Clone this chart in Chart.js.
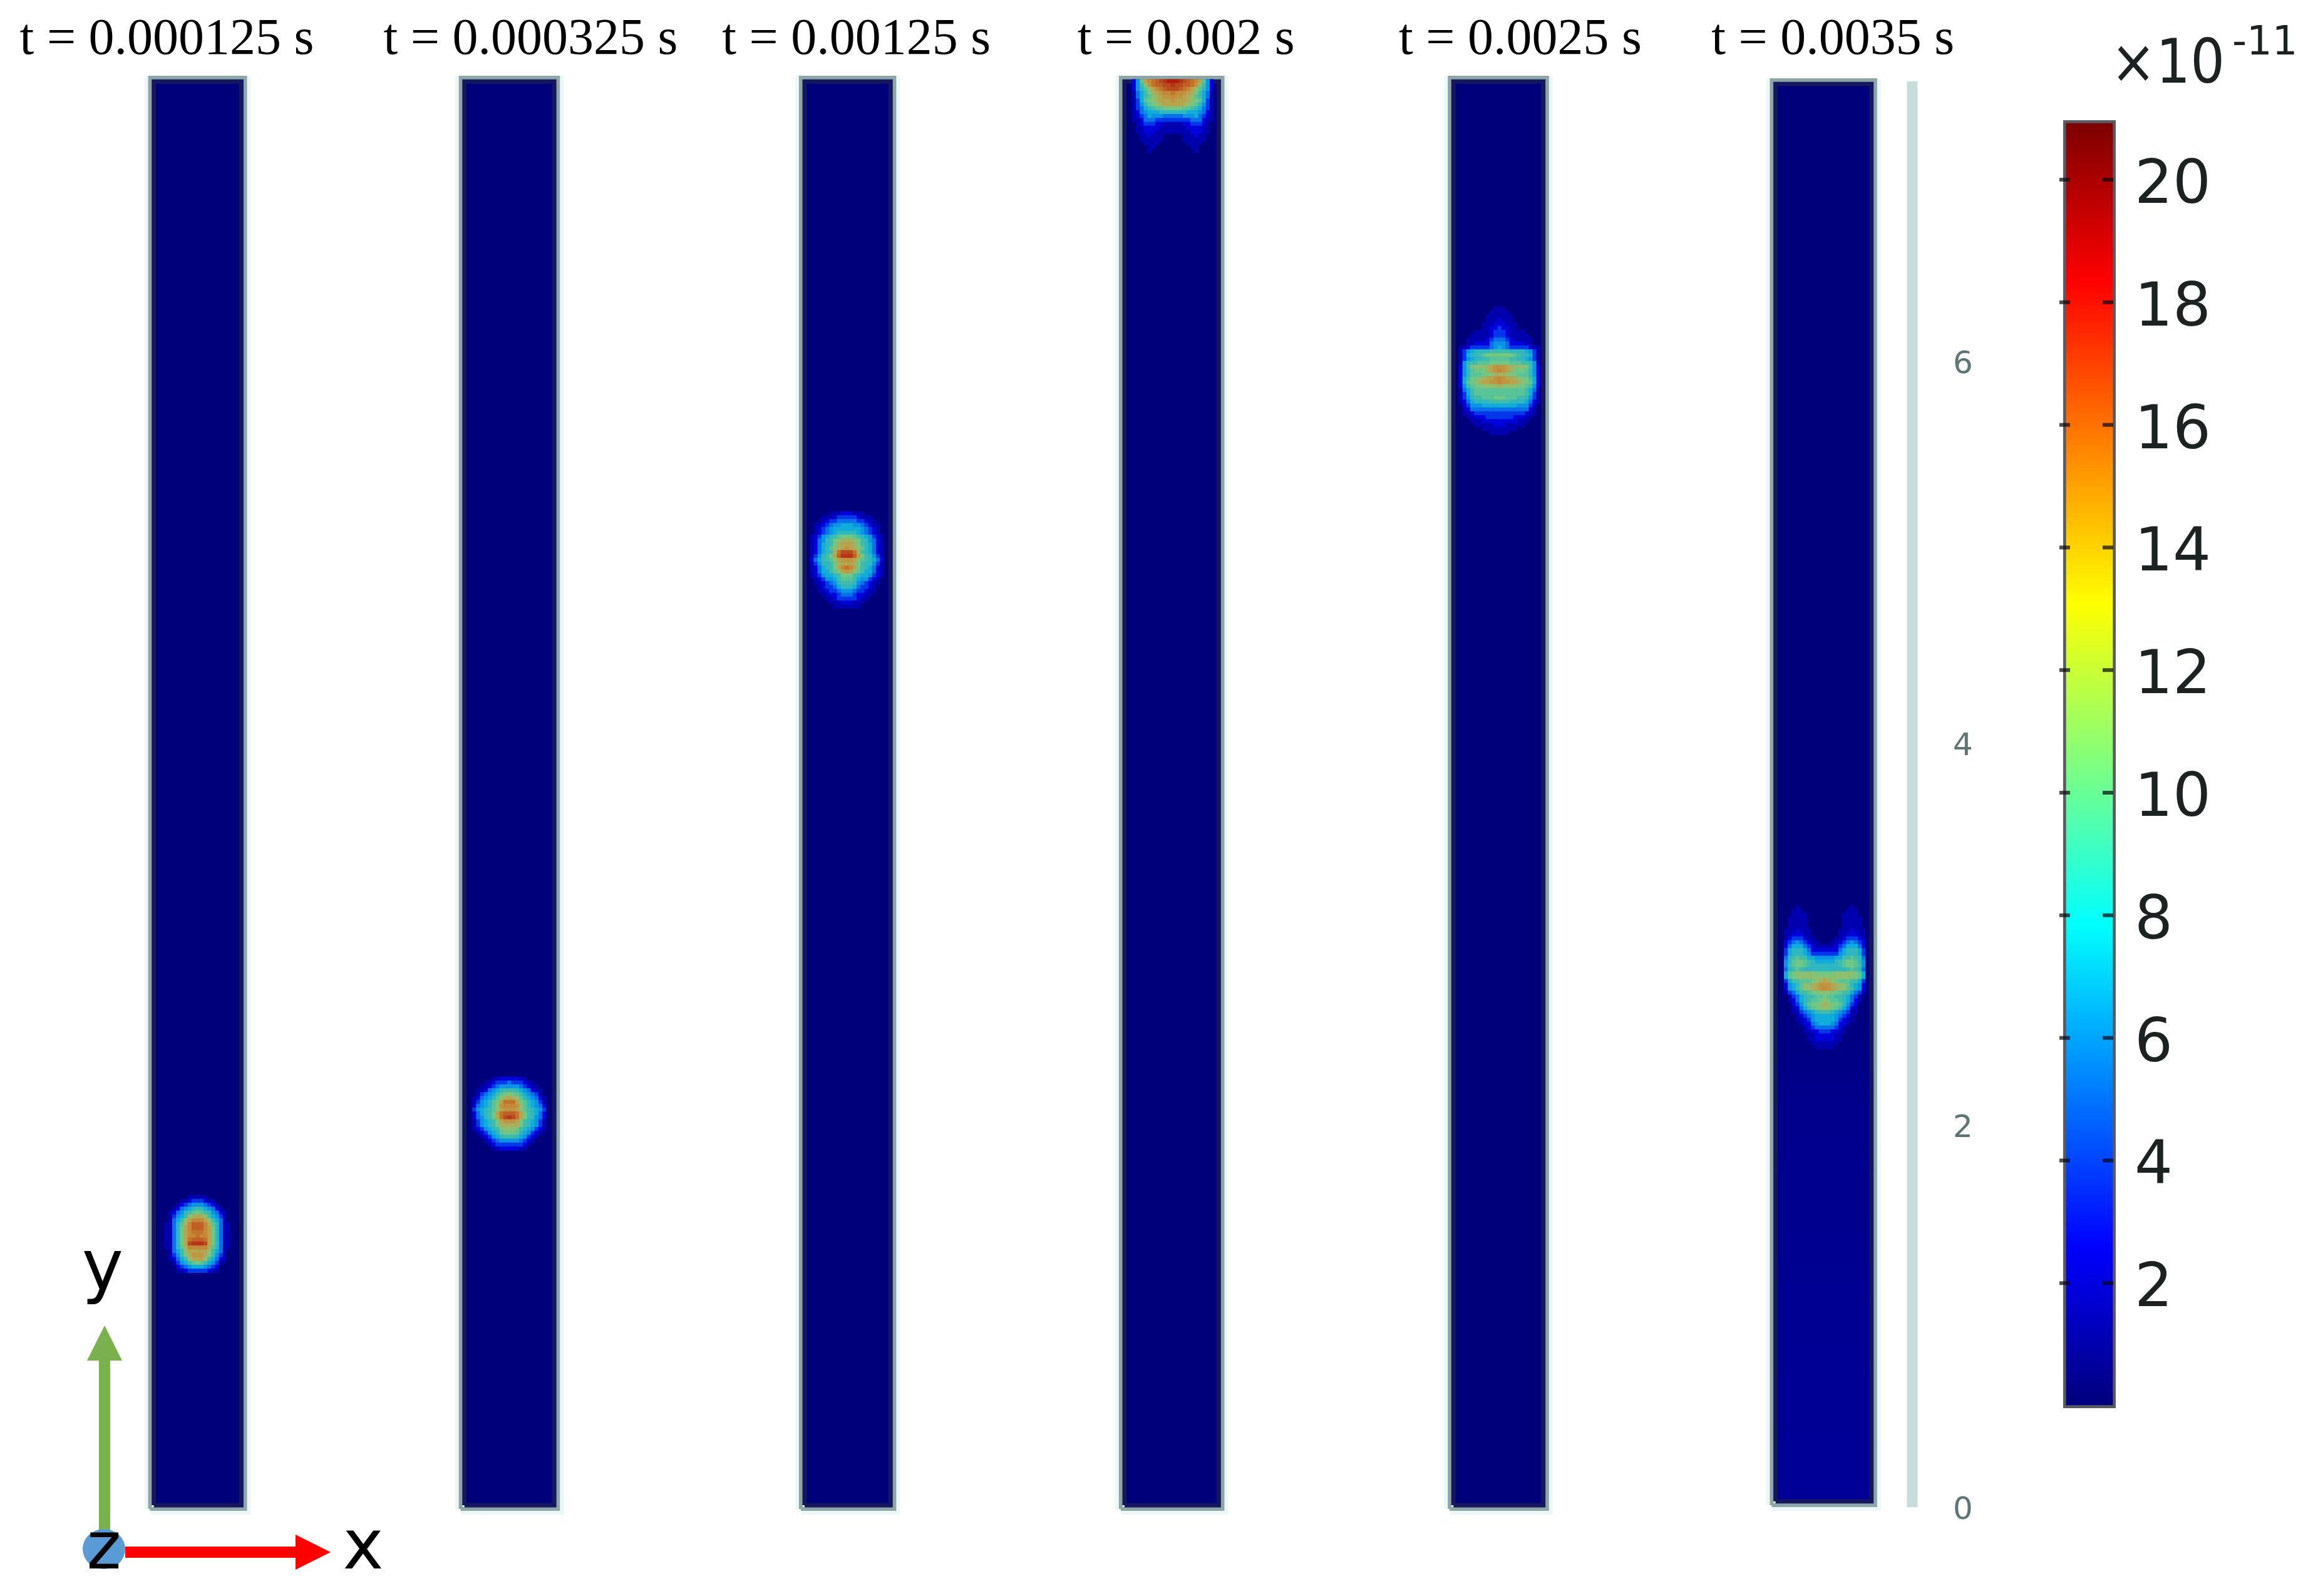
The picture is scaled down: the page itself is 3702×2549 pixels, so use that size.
<!DOCTYPE html>
<html><head><meta charset="utf-8">
<script src="https://cdn.jsdelivr.net/npm/chart.js@4/dist/chart.umd.min.js"></script>
<style>html,body{margin:0;padding:0;background:#fff;width:3702px;height:2549px;overflow:hidden}
canvas{position:absolute;top:0}</style></head><body>
<canvas id="main" width="3702" height="2549" style="left:0"></canvas>
<canvas id="bar" width="422" height="2549" style="left:3280px"></canvas>
<script>
// ---- categories / labels
const panelTitles = ["t = 0.000125 s","t = 0.000325 s","t = 0.00125 s","t = 0.002 s","t = 0.0025 s","t = 0.0035 s"];
const yTicks = [0,2,4,6];
const colorbarTicks = [2,4,6,8,10,12,14,16,18,20];
// ---- panel extents in axis units
const panelLeft  = [0.761,2.390,4.174,5.852,7.577,9.266];
const panelRight = [1.280,2.921,4.685,6.406,8.108,9.829];
const panelTop   = [7.495,7.495,7.495,7.495,7.495,7.482];
const panelBottom= [-0.02,-0.02,-0.02,-0.02,-0.02,0];
const thinBarX = [10.013,10.013], thinBarY = [0,7.466];
// ---- field values, unit 1e-11; each row runs from the outer edge to the centreline
const hotCentreX = [1.02,2.655,4.425,6.135,7.848,9.554];
const hotTopY    = [1.623,2.243,5.203,7.466,6.275,3.16];
const field1 = [
[0,0,0,0,0,0,1,1,1],[0,0,0,0,1,1,2,3,3],[0,0,0,1,2,3,4,5,5],[0,0,1,2,4,5,6,7,8],[0,1,2,4,5,7,8,9,10],
[0,1,3,5,6,8,11,12,13],[0,1,4,6,8,11,13,15,15],[1,1,4,7,9,12,15,17,17],[1,1,4,7,10,13,15,17,17],[1,1,4,7,10,13,15,16,16],
[1,1,4,7,10,13,15,15,16],[1,1,4,7,10,13,16,17,17],[1,1,4,7,10,13,18,19,19],[1,1,4,7,9,12,15,15,15],[0,1,4,6,8,11,13,13,13],
[0,1,3,5,8,10,12,14,14],[0,1,2,4,6,8,11,13,13],[0,0,1,3,5,6,8,9,10],[0,0,0,2,3,4,5,6,6],[0,0,0,1,1,2,3,3,3]];
const field2 = [
[0,0,0,0,0,1,1,2,2,2],[0,0,0,1,1,2,3,3,3,4],[0,0,1,1,2,3,4,5,5,5],[0,1,1,2,4,5,6,7,8,8],
[0,1,3,4,5,6,8,9,10,11],[1,2,4,5,6,7,9,11,12,13],[1,3,5,6,7,9,10,13,16,16],[2,4,5,6,7,9,11,14,15,15],
[3,5,6,7,8,9,11,13,14,14],[2,4,6,7,8,10,13,16,17,17],[2,4,5,7,8,10,13,16,18,19],[1,3,5,6,7,8,10,13,14,14],
[1,3,5,6,7,8,10,12,12,12],[1,2,3,5,6,7,8,10,11,11],[0,1,2,3,5,6,7,9,10,10],[0,0,1,2,3,5,6,7,8,8],
[0,0,0,1,2,3,4,5,5,5],[0,0,0,0,1,2,3,3,3,3],[0,0,0,0,0,1,1,2,2,2]];
const field3 = [
[0,0,0,0,0,1,1,1,2,2],[0,0,0,1,1,1,2,3,3,3],[0,0,1,1,2,3,3,4,4,4],[0,1,1,2,3,4,5,5,6,6],
[0,1,2,3,4,5,6,6,6,6],[0,1,2,3,4,5,6,7,7,7],[1,2,3,5,6,7,8,9,10,10],[1,2,4,5,7,8,10,11,12,12],
[1,2,4,6,7,8,10,12,13,13],[1,2,4,6,7,9,11,12,13,14],[1,2,4,6,7,8,12,16,18,18],[1,3,5,7,8,10,13,17,19,19],
[2,4,6,7,8,9,11,13,14,14],[1,3,5,7,7,8,10,12,13,13],[1,2,4,6,7,8,10,13,15,16],[1,2,4,6,6,8,9,11,13,14],
[1,2,3,5,6,6,7,8,10,10],[0,1,2,3,5,5,6,8,9,9],[0,1,1,2,3,4,5,7,8,8],[0,0,1,2,3,3,4,6,7,7],
[0,0,1,1,2,3,3,4,5,5],[0,0,0,1,1,2,2,3,4,4],[0,0,0,0,1,1,2,3,3,3],[0,0,0,0,0,1,1,1,2,2],[0,0,0,0,0,0,1,1,1,1]];
const field4 = [
[0,2,5,9,13,15,16,17,18,19,20,20],[0,2,5,8,11,14,16,17,17,18,18,19],[0,2,5,7,9,11,13,15,16,17,18,18],
[0,1,4,6,8,10,12,13,14,15,15,16],[0,1,4,6,8,9,11,12,13,14,14,15],[0,1,3,6,9,10,11,12,13,13,13,14],
[0,1,3,5,7,9,10,11,12,13,13,13],[0,1,3,4,6,7,8,9,9,10,10,10],[0,1,2,4,5,6,6,6,7,7,7,7],
[0,1,2,3,4,6,5,5,5,4,4,4],[0,1,1,2,4,4,4,3,3,3,3,3],[0,0,1,2,3,3,3,2,2,1,1,1],[0,0,1,1,2,2,2,2,1,1,1,1],
[0,0,1,1,2,2,2,1,1,1,1,1],[0,0,0,1,1,2,1,1,1,0,0,0],[0,0,0,1,1,1,1,1,1,0,0,0],[0,0,0,0,1,1,1,1,0,0,0,0],
[0,0,0,0,0,1,1,0,0,0,0,0],[0,0,0,0,0,1,0,0,0,0,0,0]];
const field5 = [
[0,0,0,0,0,0,0,0,0,1,1],[0,0,0,0,0,0,0,0,1,1,1],[0,0,0,0,0,0,0,1,1,1,1],[0,0,0,0,0,0,0,1,1,1,2],
[0,0,0,0,0,0,1,1,1,2,2],[0,0,0,0,0,0,1,1,2,2,3],[0,0,0,0,1,1,1,1,2,3,3],[0,0,0,1,1,1,1,1,2,3,3],
[0,0,1,1,1,1,1,2,3,4,4],[0,0,1,1,2,2,2,2,4,5,5],[1,1,2,3,3,3,3,3,4,5,6],[1,3,5,6,7,7,7,7,8,8,8],
[1,3,6,7,7,8,9,10,10,10,10],[1,3,5,6,7,7,8,8,9,9,9],[1,5,7,8,8,9,9,9,10,10,10],[2,5,8,10,11,11,11,12,13,14,14],
[2,5,7,9,10,10,10,12,13,14,15],[2,5,7,9,9,9,10,10,11,12,12],[2,6,8,10,10,11,12,13,13,14,15],[2,6,9,10,11,12,13,13,14,14,15],
[2,5,8,9,10,10,11,11,11,11,12],[1,4,6,8,9,9,9,9,9,9,9],[1,3,6,8,9,9,9,9,9,9,9],[1,3,5,7,8,8,9,9,9,10,10],
[1,2,4,6,7,7,7,7,8,8,8],[0,2,3,5,5,5,6,6,6,6,6],[0,1,2,4,4,4,4,4,4,4,4],[0,1,1,2,3,3,3,3,3,3,3],
[0,0,1,1,2,2,2,3,3,3,3],[0,0,0,1,1,1,2,2,2,2,2],[0,0,0,0,1,1,1,1,1,2,2],[0,0,0,0,0,0,1,1,1,1,1],[0,0,0,0,0,0,0,0,1,1,1]];
const field6 = [
[0,0,0,0,0,0,0,0,0,0,0],[0,0,0,1,0,0,0,0,0,0,0],[0,0,1,1,1,0,0,0,0,0,0],[0,0,1,1,1,1,0,0,0,0,0],
[0,1,1,1,1,1,0,0,0,0,0],[0,1,1,1,1,1,0,0,0,0,0],[0,1,1,1,1,1,0,0,0,0,0],[1,1,1,2,1,1,1,0,0,0,0],
[1,1,2,2,2,1,1,0,0,0,0],[1,2,3,3,3,2,1,1,0,0,0],[2,3,4,5,4,3,2,1,1,0,0],[2,4,6,6,6,4,3,2,1,1,1],
[3,6,7,7,7,6,4,2,2,2,2],[3,6,7,7,7,6,5,3,3,3,3],[4,7,8,9,8,8,6,6,5,5,5],[5,7,9,10,10,9,8,7,6,6,6],
[5,8,9,10,10,9,8,7,7,7,7],[4,7,8,9,8,7,7,7,7,7,7],[6,9,10,11,11,11,11,11,10,10,10],[6,9,10,11,11,11,11,11,11,11,11],
[3,6,8,8,9,9,9,10,11,12,13],[2,5,6,7,9,11,11,12,13,14,14],[2,5,6,8,9,11,11,12,13,14,15],[1,3,4,6,8,8,9,10,10,11,11],
[0,1,3,4,6,7,8,8,9,9,10],[0,1,2,4,6,7,8,9,9,10,11],[0,0,2,3,5,7,9,10,10,11,12],[0,0,1,2,4,6,8,9,10,11,11],
[0,0,1,1,3,4,5,6,7,8,8],[0,0,0,1,2,3,4,5,6,6,6],[0,0,0,1,1,2,3,5,6,6,6],[0,0,0,0,1,2,2,4,5,6,6],
[0,0,0,0,0,1,2,3,4,4,4],[0,0,0,0,0,1,1,2,2,3,3],[0,0,0,0,0,0,1,1,2,2,2],[0,0,0,0,0,0,1,1,2,2,2],
[0,0,0,0,0,0,0,1,1,1,1],[0,0,0,0,0,0,0,0,1,1,1]];
const fields = [field1,field2,field3,field4,field5,field6];

// ---- styles
const fieldRamp = ["#00007a","#0000b0","#0004dc","#0038ea","#0870ea","#0c94e4","#10acdc","#30b8c0","#40bcac","#58c498","#70c884",
 "#8cc070","#a8b060","#b8a44c","#c09440","#c48838","#c47428","#c06024","#b84a20","#b83418","#b01c08"];
const jetStops = [[0,"#00007a"],[0.125,"#0000ff"],[0.375,"#00ffff"],[0.625,"#ffff00"],[0.875,"#ff0000"],[1,"#7a0000"]];
const PX = 305, CELL = 0.0203, INSET_A = 0.01, INSET_B = 0.03;

function cells(grid, cx, top){
  const pts = [];
  grid.forEach((row,r)=>{
    const n = row.length;
    row.forEach((v,i)=>{
      if(v<=0) return;
      const off = (n-1-i)*CELL, y = top - r*CELL;
      pts.push({x:cx-off,y,v});
      if(off>0) pts.push({x:cx+off,y,v});
    });
  });
  return pts;
}
function rect(i,inset,topExtra){
  const l=panelLeft[i]+inset,r=panelRight[i]-inset,t=panelTop[i]-inset-(topExtra||0),b=panelBottom[i]+inset;
  return [{x:l,y:b},{x:r,y:b},{x:r,y:t},{x:l,y:t},{x:l,y:b}];
}
function panelFill(c,i){
  if(i<5) return "#00007a";
  const ch=c.chart, a=ch.chartArea; if(!a) return "#00007a";
  const y=ch.scales.y, g=ch.ctx.createLinearGradient(0,y.getPixelForValue(0),0,y.getPixelForValue(2.8));
  g.addColorStop(0,"#000098"); g.addColorStop(.75,"#00008c"); g.addColorStop(1,"#00007a");
  return g;
}
const datasets=[];
const lineBase={type:"line",pointRadius:0,tension:0,clip:false,borderJoinStyle:"miter"};
panelTitles.forEach((_,i)=>{
  datasets.push({...lineBase,data:rect(i,INSET_A,0.02),borderColor:"#ecf8f8",borderWidth:18,fill:false,order:9});
  datasets.push({...lineBase,data:rect(i,INSET_A),borderColor:"#8fa6a6",borderWidth:6,fill:false,order:8});
  datasets.push({...lineBase,data:rect(i,INSET_B),borderColor:"#14165e",borderWidth:7,fill:"shape",
    backgroundColor:c=>panelFill(c,i),order:7});
  datasets.push({type:"scatter",data:cells(fields[i],hotCentreX[i],hotTopY[i]),pointStyle:"rect",pointRadius:4.8,
    pointBorderWidth:0,borderWidth:0,clip:false,order:1,
    backgroundColor:c=>fieldRamp[c.raw?Math.min(20,c.raw.v):0]});
});
datasets.push({...lineBase,data:thinBarX.map((x,i)=>({x,y:thinBarY[i]})),borderColor:"#c8dcdc",borderWidth:17,borderCapStyle:"butt",fill:false,order:9});

const annotate={id:"annotate",afterDatasetsDraw(ch){
  const c=ch.ctx,x=ch.scales.x; c.save();
  c.textBaseline="alphabetic";c.textAlign="center";c.fillStyle="#000";
  c.font='82px "Liberation Serif"';
  const titleShift=[-49,34,14,23,35,15];
  panelTitles.forEach((t,i)=>{
    const mid=x.getPixelForValue((panelLeft[i]+panelRight[i])/2);
    c.fillText(t,mid+titleShift[i],86);
  });
  // coordinate triad
  c.fillStyle="#7ab04e"; c.fillRect(158,2170,18,280);
  c.beginPath();c.moveTo(167,2117);c.lineTo(195,2173);c.lineTo(139,2173);c.closePath();c.fill();
  c.fillStyle="#ff0000"; c.fillRect(200,2470,275,18);
  c.beginPath();c.moveTo(528,2479);c.lineTo(472,2451);c.lineTo(472,2507);c.closePath();c.fill();
  c.fillStyle="#5b9bd5"; c.beginPath();c.ellipse(166,2474,34,32,0,0,Math.PI*2);c.fill();
  c.fillStyle="#000";
  c.font='105px "DejaVu Sans"'; c.fillText("z",166,2505);
  c.font='112px "DejaVu Sans"'; c.fillText("y",164,2060);
  c.font='110px "DejaVu Sans"'; c.fillText("x",580,2505);
  c.restore();
}};

new Chart(document.getElementById("main"),{
  type:"scatter",
  data:{datasets},
  options:{responsive:false,devicePixelRatio:1,animation:false,events:[],
    layout:{padding:{top:128,bottom:142,left:0,right:0}},
    plugins:{legend:{display:false},tooltip:{enabled:false},title:{display:false}},
    scales:{
      x:{type:"linear",display:false,min:0,max:3054/PX},
      y:{type:"linear",position:"right",min:0,max:(2407-128)/PX,
        grid:{drawOnChartArea:false,drawTicks:false},
        border:{display:false},
        afterBuildTicks:s=>{s.ticks=yTicks.map(value=>({value}));},
        afterFit:s=>{s.width=3702-3054;},
        ticks:{padding:65,labelOffset:6,color:"#5f7474",autoSkip:false,font:{family:"DejaVu Sans",size:50}}
      }
    }
  },
  plugins:[annotate]
});

function colorbarFill(c){
  const a=c.chart.chartArea; if(!a) return "#0000ff";
  const g=c.chart.ctx.createLinearGradient(0,a.bottom,0,a.top);
  jetStops.forEach(s=>g.addColorStop(s[0],s[1]));
  return g;
}
const OFF=3280;
const barDeco={id:"barDeco",afterDatasetsDraw(ch){
  const c=ch.ctx,y=ch.scales.y; c.save();
  c.fillStyle="rgba(10,10,20,.72)";
  colorbarTicks.forEach(v=>{
    const p=y.getPixelForValue(v);
    c.fillRect(3289-OFF,p-3,17,6);
    c.fillRect(3358-OFF,p-3,17,6);
  });
  c.fillStyle="#1c2222";c.textBaseline="alphabetic";c.textAlign="left";
  c.font='98px "DejaVu Sans"';c.fillText("×10",3371-OFF,132,182);
  c.font='64px "DejaVu Sans"';c.fillText("-11",3565-OFF,87,108);
  c.restore();
}};
new Chart(document.getElementById("bar"),{
  type:"bar",
  data:{labels:["field"],datasets:[{data:[[-0.04,20.97]],backgroundColor:colorbarFill,borderColor:"#5a5a62",borderWidth:5,
    borderSkipped:false,barPercentage:1,categoryPercentage:1}]},
  options:{responsive:false,devicePixelRatio:1,animation:false,events:[],
    layout:{padding:{top:192,bottom:2549-2249,left:15,right:0}},
    plugins:{legend:{display:false},tooltip:{enabled:false}},
    scales:{
      x:{display:false},
      y:{position:"right",min:-0.04,max:20.97,
        grid:{display:false,drawTicks:false},border:{display:false},
        afterBuildTicks:s=>{s.ticks=colorbarTicks.map(value=>({value}));},
        afterFit:s=>{s.width=3702-3280-99;},
        ticks:{padding:30,labelOffset:12,color:"#1c2222",autoSkip:false,font:{family:"DejaVu Sans",size:96}}
      }
    }
  },
  plugins:[barDeco]
});
</script>
</body></html>
